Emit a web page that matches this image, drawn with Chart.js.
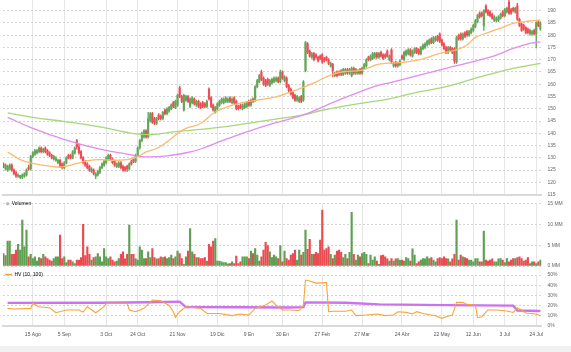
<!DOCTYPE html>
<html><head><meta charset="utf-8">
<script src="https://cdn.jsdelivr.net/npm/chart.js@4/dist/chart.umd.min.js"></script>
<style>
html,body{margin:0;padding:0;background:#fff;width:571px;height:352px;overflow:hidden;}
#strip{position:absolute;left:0;top:346px;width:571px;height:6px;background:#f2f2f2;}
canvas{position:absolute;left:0;}
</style></head><body>
<div id="strip"></div>
<canvas id="price" style="top:0" width="571" height="198"></canvas>
<canvas id="vol" style="top:198px" width="571" height="72"></canvas>
<canvas id="hv" style="top:270px" width="571" height="82"></canvas>
<script>
// ---- x axis (trading-day index) ----
const tickIdx = [14, 29, 49, 64, 83, 102, 117, 133, 152, 171, 190, 209, 224, 239, 254];
const tickLabels = ['15 Ago','5 Sep','3 Oct','24 Oct','21 Nov','19 Dic','9 En','30 En','27 Feb','27 Mar','24 Abr','22 May','12 Jun','3 Jul','24 Jul'];
const priceTicks = [115,120,125,130,135,140,145,150,155,160,165,170,175,180,185,190];
const volTicks = [0, 5, 10, 15];
const hvTicks = [0, 10, 20, 30, 40, 50];

// ---- daily OHLC ----
const open = [
127.5,125.5,125,125.5,127,125,124,122.5,122,122,
122.5,123,126,125.5,130.5,131.5,132,132.5,134,132.5,
134,133,132,131,129.5,129,128,129,127.5,126,
128,131,131,130,132,137,134.5,132.5,130,128.5,
127.5,126.5,124.5,125,122.5,123,124,126,127,128,
129.5,131,129.5,128.5,126.5,126.5,128,126.5,126,126.5,
125.5,128.5,129.5,128.5,131,134,137,138.5,141,138.5,
145,148,146,144,147.5,147,146,149.5,148,149,
150,152.5,150.5,151.5,158.5,155,149.5,153.5,155,151,
152.5,154,151.5,153,152,152.5,152,151,158,154.5,
151.5,148.5,150,151.5,152.5,152.5,153,153,154.5,152.5,
154.5,153,151,151.5,150,150.5,151,153,151.5,154,
153.5,159,161,165,162.5,161.5,162,159.5,160.5,161,
161.5,162.5,161,165,161.5,162.5,159.5,158,156.5,155.5,
153.5,153,155,153.5,165.5,176.5,173.5,171,172.5,172,
171,171.5,172,170.5,171,170,167.5,168,163.5,165,
165,165.5,164,164.5,166,164.5,163.5,166.5,164.5,164.5,
166,164.5,166.5,167.5,171,170,170.5,171,172.5,171,
173,172,172,173.5,170,174,167.5,169,167.5,168,
171.5,170,172,172.5,174,171.5,173,174.5,174,172.5,
174.5,175,176,176.5,178.5,177,178,179.5,180.5,178,
176.5,175,173,175,174.5,174.5,169,180,180.5,178.5,
181,181.5,180,181,182,183.5,185.5,189,189,184,
192,190,189.5,188.5,186,186,186,187,189.5,188,
189.5,193.5,190.5,191,189.5,192,186.5,184.5,184,183,
182.5,180.5,180.5,182,180.5,185.5,182.5];
const high = [
128,127.5,127,127.5,127.5,125.5,124.5,123.5,123,123.5,
124,125.5,127,131,132.5,133.5,133.5,134.5,134.5,134,
134.5,133.5,132.5,131.5,131,130.5,129.5,129.5,128,128.5,
130.5,131.5,131.5,133,134.5,137.5,135.5,133,130.5,129,
128,127,126,125.5,124,125,126.5,128,129,130.5,
131.5,131.5,130,129,128,128.5,128.5,127,126.5,127,
128,129,130,131.5,134.5,137.5,140.5,141.5,141.5,148.5,
148.5,148.5,146.5,146.5,148,147.5,149,150,150.5,151,
152,153,153.5,156,159.3,155.5,156,155.5,155.5,154.5,
155,154.5,153.5,153.5,152.5,153,152.5,153.5,158.5,155,
152,151,152.5,153.5,154.5,154.5,155,154.5,155,154.5,
155,153.5,151.5,152,152,152.5,153,153.5,154,154.5,
159.5,162,164,165.8,163,162,162.5,162,162.5,163,
163,163,165.8,165.5,163.5,163,160,158.5,157,156,
155.5,155,155.5,161.5,177.5,177,174,173,173,172.5,
171.5,172,172.5,171,171.5,170.5,169,168.5,165,165.5,
165.5,166,166.5,166.5,166.5,166.5,167,167,166.5,166,
166.5,167,168.5,170.5,171.5,172,173,173,173,173,
173.5,172.5,172.5,174,172,174.5,169,169.5,169,170,
172,173.5,174,174.5,174.5,174,175,175,174.5,175.5,
176.5,177,178,178.5,179,179.5,179.5,180,181,178.5,
177,175.5,175.5,175.5,175,175,179.5,180.5,181,181,
181.5,182,182,183,184.5,186.5,188.5,189.5,189.5,190.5,
192.5,190.5,190,189,188,187.5,188,189,190,191,
191.5,194.3,191,191.5,191.5,193,187,185,184.5,183.5,
183,182.5,182,182.5,185.5,186,185.5];
const low = [
126,125,124.5,125,124.5,123,122,122,121.5,121.5,
122,122.5,125,125,130,131,131.5,132,132,132,
132,131,130.5,129.5,129,128.5,127.5,126,125.5,125.5,
127.5,129.5,129.5,129.5,131.5,133.5,131.5,129.5,127.5,126.5,
125.5,124.5,124,123,121.5,122.5,123.5,125.5,126.5,127.5,
129,129,127.5,126.5,126,126,125.5,124.5,124.5,124.5,
125,127,128,128,130.5,133.5,136.5,138,138,138,
144.5,144,143.5,143.5,145.5,145.5,145.5,147.5,147.5,148.5,
149.5,150.5,150,151,154.5,152.5,149,153,152.5,150.5,
152,151.5,151,150.5,150,150.5,150.5,150.5,153.5,150.5,
149,148.2,149.5,151,152,152,152.5,152.5,152.5,152,
152,149.5,149.5,150,149.5,150,150.5,151,151,152.5,
153,158.5,160.5,161.5,159.5,159,159.5,159,160,160.5,
161,160.5,160.5,162,161,158.5,157,155.5,154,153,
153,152.5,152.5,153,165,172.5,171,170.5,169.5,170.5,
169,170,168.5,169,169.5,168,167,163,163,163,
163.5,163.5,163.5,164,164,164,163,164,164,164,
164,164,166,167,169.5,169.5,170,170.5,170.5,170.5,
171,170,170.5,171,169.5,168.5,167,167,167,167.5,
170,169.5,171.5,172,171.5,171,172.5,172.5,172,172,
174,174.5,175.5,176,176.5,176.5,177.5,177.5,177,175.5,
174,172.5,172.5,173.5,172.5,168.5,168.5,178,178,178,
179,179.5,179.5,180.5,181.5,183,185,187,187.5,182,
189,188,187.5,186.5,185.5,185.5,185.5,186.5,187.5,187.5,
189,188.5,188.5,189.5,189,186,183.5,181.5,182,180.5,
180.5,180,180,180,174.8,183.5,182];
const close = [
126.5,127,126.5,127,125,123.5,122.5,123,122.8,123,
123.5,125,125.5,130.5,132,133,133,134,132.5,133.5,
132.5,131.5,131,130,130.5,129.8,129,126.5,126,128,
130,130,130,132.5,134,134.5,132,130,128,127,
126,125,125.5,123.5,123.5,124.5,126,127.5,128.5,130,
131,129.5,128,127,127.5,128,126,125,125,125.5,
127.5,127.5,128.5,131,134,137,140,141,138.5,146,
148,144.5,144,146,146,146,148.5,148,150,150.5,
151.5,151,153,155.5,155,153,155.5,155,153,154,
154.5,152,153,151,150.5,151,151,153,154,151,
149.5,150.5,152,153,154,154,154.5,154,153,154,
152.5,150,150,150.5,151.5,152,152.5,151.5,153.5,153,
159,161.5,163.5,162,160,159.5,160,161.5,162,162.5,
162.5,161,165,162.5,163,159,157.5,156,154.5,153.5,
155,154.5,153,161,177,173,171.5,172.5,170,171,
169.5,170.5,169,169.5,170,168.5,168.5,165.5,164.5,163.5,
164,164,166,166,164.5,166,166.5,164.5,166,165.5,
164.5,166.5,168,170,170,171.5,172.5,172.5,171,172.5,
171.5,170.5,171,171.5,171.5,169,168.5,167.5,168.5,169.5,
170.5,173,173.5,174,172,173.5,174.5,173,172.5,175,
176,176.5,177.5,178,177,179,179,178,177.5,176,
174.5,173,175,174,173,169.5,179,178.5,178.5,180.5,
179.5,180,181.5,182.5,184,186,188,187.5,188,190,
189.5,188.5,188,187,187.5,187,187.5,188.5,188,190.5,
191,189,189,190,191,186.5,184,182,182.5,181,
181,182,181.5,180.5,185,184,185];
// ---- volume, millions ----
const volumeMM = [
3.0,2.5,6.0,6.0,2.8,2.8,3.8,5.2,3.8,11.0,
4.6,8.6,2.2,2.8,1.8,2.2,1.2,2.0,1.8,2.8,
2.2,1.8,1.4,1.2,1.8,2.2,2.2,7.4,1.8,2.2,
0.8,1.4,1.4,1.0,0.6,1.4,1.4,2.0,10.0,2.5,
4.6,2.8,1.4,2.0,2.2,3.0,2.2,1.0,4.2,2.2,
1.8,2.2,1.4,1.0,1.2,1.8,2.8,3.4,1.7,2.8,
9.8,2.8,2.8,1.8,1.4,4.6,3.8,1.8,1.8,3.4,
2.0,4.2,2.0,1.7,1.8,2.2,2.0,2.2,1.8,2.0,
2.6,1.8,2.2,3.6,3.0,1.8,0.4,2.2,3.6,9.0,
3.4,2.8,2.0,2.0,1.8,1.8,2.0,1.2,5.2,4.6,
6.0,6.6,1.2,1.2,1.0,0.8,0.8,0.5,0.6,1.0,
0.6,2.4,0.6,1.0,2.2,2.2,2.2,1.8,3.6,3.0,
4.2,2.6,1.2,2.2,3.8,5.7,4.9,3.4,2.0,2.6,
2.2,1.8,4.9,1.0,3.6,1.8,1.4,2.6,3.0,3.8,
1.4,3.8,2.6,3.3,8.6,4.0,6.4,2.8,2.8,3.3,
3.0,6.2,13.4,3.8,4.2,4.6,2.8,1.8,2.6,3.6,
3.8,3.3,2.0,2.8,1.8,3.3,12.9,2.8,1.4,2.6,
2.2,3.0,3.3,2.8,0.6,2.6,1.4,2.2,1.2,0.4,
2.5,2.6,2.2,1.7,1.2,1.8,1.2,1.7,1.8,1.4,
1.4,1.2,2.0,1.8,1.2,4.1,2.6,0.6,1.0,1.4,
1.8,1.7,2.2,1.8,2.0,1.4,1.0,1.8,2.0,1.8,
2.2,1.8,1.7,1.0,1.7,2.8,11.0,1.4,2.6,2.2,
2.0,1.8,1.4,1.4,1.0,1.8,1.8,1.0,1.0,8.4,
1.4,1.2,1.4,1.7,1.0,1.0,1.7,1.8,1.4,0.8,
1.8,1.0,1.4,1.8,1.8,2.0,2.2,1.8,1.2,1.4,
2.0,0.6,1.0,1.0,0.6,1.0,1.4];

// ---- moving averages (read at sample points) ----
const maShortIdx = [2,8,14,22,28,35,40,46,52,59,64,68,73,78,83,87,94,101,111,121,130,135,143,149,156,162,171,179,189,198,208,216,221,225,232,238,243,251,256];
const maShortVal = [132.4,129.3,127.7,126.6,126.3,127.7,128.8,129.3,129.0,129.3,130.4,132.4,133.8,136.5,139.9,142,144,148.7,151.9,153.5,154.9,156.3,158.7,161,163.7,165.1,165.8,168.2,168.8,169.9,172.6,174,176,179.1,181.4,183.2,184.8,185.8,186.2];
const maMidIdx = [2,14,30,46,59,67,78,89,94,105,121,137,145,156,168,179,184,195,211,224,235,243,251,256];
const maMidVal = [146.5,142,137.2,133.5,131.5,130.4,130.8,132.4,133.6,137.2,142,146,148.1,152.2,156.3,159.6,160.6,163,166.5,169.2,171.9,174.6,176.7,177.3];
const maLongIdx = [2,14,30,46,62,71,81,89,94,105,121,137,145,152,168,184,195,211,227,243,256];
const maLongVal = [148.3,146.5,144.7,142.6,139.9,139.5,140.6,141.2,141.6,142.6,144.7,146.7,147.8,149.4,151.9,154,156.3,159,163,166.5,168.5];

// ---- historical volatility (%) ----
const hv10Idx = [2,5,13,14,17,22,25,30,36,38,40,44,48,49,59,60,63,67,71,75,79,81,82,84,87,94,97,103,109,113,117,120,125,128,130,133,137,141,143,144,146,149,153,154,155,157,163,166,168,173,178,182,186,188,192,195,197,200,206,209,211,214,216,219,221,225,226,228,231,235,240,243,245,247,249,254,256];
const hv10Val = [17.1,16.5,17.1,22,18.7,17.7,12.8,15.5,15.5,13.5,18.7,12.8,18.7,22,22,15.5,13.8,17.1,25.3,24.5,20,13.8,8.3,13.8,18.7,17.1,12.1,12.1,9.9,11.5,10.5,17.1,20.3,24.3,20.3,15.5,15.5,15,20,45,44,42,42.5,42.5,13.8,14.3,14.3,15.5,9.9,10.5,11.6,9.9,10.5,13.8,13.1,11.6,13.8,12.1,9.9,7.3,8.9,10.5,23,23,21,20,7.9,8.9,15.5,15.5,14.5,13.1,17.5,15.5,12.5,11.5,9.5];
const hv100Idx = [2,46,70,84,87,136,143,144,163,179,211,243,245,256];
const hv100Val = [22.5,22.7,23.2,23.7,18.4,18.0,18.3,23,22.7,21,20.3,19.8,15,14.5];

// ---------------- rendering ----------------
const F = "'Liberation Sans', Arial, sans-serif";
Chart.defaults.font.family = F;
Chart.defaults.font.size = 5;
Chart.defaults.color = '#666';
Chart.defaults.animation = false;
Chart.defaults.responsive = false;
Chart.defaults.plugins.legend.display = false;
Chart.defaults.plugins.tooltip.enabled = false;

const X_MIN = -0.2, X_MAX = 256.5, RIGHT_W = 29.5;
const UP = '#64a558', DOWN = '#ee4d55';
const VUP = '#5f9f52', VDOWN = '#ea4b50';

const idx = close.map((_, i) => i);
const isUp = idx.map(i => close[i] >= open[i]);
const pts = (xs, ys) => xs.map((x, k) => ({x, y: ys[k]}));

function xAxis(o) {
  return {
    type: 'linear', min: X_MIN, max: X_MAX, offset: false,
    afterBuildTicks: s => { s.ticks = tickIdx.map(v => ({value: v})); },
    ticks: { display: !!o.labels, autoSkip: false, maxRotation: 0, minRotation: 0, padding: 6,
             color: '#555', font: {size: 5}, callback: (v, k) => tickLabels[k] },
    grid: { color: '#e6e6e6', drawTicks: false, offset: false },
    border: { display: !!o.border, color: '#d9d9d9', width: 2 },
    afterFit: s => { s.height = o.h; s.paddingLeft = 0; s.paddingRight = 0; }
  };
}
function yAxis(min, max, ticks, fmt) {
  return {
    position: 'right', min, max,
    afterBuildTicks: s => { s.ticks = ticks.map(v => ({value: v})); },
    ticks: { padding: 6, color: '#666', font: {size: 5}, callback: fmt },
    grid: { color: '#d4d4d4', drawTicks: false },
    border: { display: false, dash: [2, 2] },
    afterFit: s => { s.width = RIGHT_W; s.paddingTop = 0; s.paddingBottom = 0; }
  };
}

// Price panel
new Chart(document.getElementById('price'), {
  type: 'bar',
  data: { datasets: [
    { type: 'line', data: pts(maShortIdx, maShortVal), borderColor: '#fdb96c', borderWidth: 1.3, pointRadius: 0, tension: 0.4, order: 0 },
    { type: 'line', data: pts(maMidIdx, maMidVal), borderColor: '#e28cf0', borderWidth: 1.3, pointRadius: 0, tension: 0.4, order: 0 },
    { type: 'line', data: pts(maLongIdx, maLongVal), borderColor: '#a6d878', borderWidth: 1.3, pointRadius: 0, tension: 0.4, order: 0 },
    { data: idx.map(i => ({x: i, y: [low[i], high[i]]})), backgroundColor: idx.map(i => isUp[i] ? UP : DOWN),
      barThickness: 0.7, grouped: false, order: 2 },
    { data: idx.map(i => ({x: i, y: [Math.min(open[i], close[i]), Math.max(open[i], close[i])]})),
      backgroundColor: idx.map(i => isUp[i] ? UP : DOWN), barThickness: 1.5, grouped: false, order: 1 }
  ]},
  options: {
    layout: { padding: { left: 3, right: 0, top: 0, bottom: 0 } },
    scales: {
      x: xAxis({ h: 3.4, border: true }),
      y: yAxis(115, 194.36, priceTicks, v => String(v))
    }
  }
});

// Volume panel
new Chart(document.getElementById('vol'), {
  type: 'bar',
  data: { datasets: [
    { label: 'Volumen', data: idx.map(i => ({x: i, y: volumeMM[i]})),
      backgroundColor: idx.map(i => isUp[i] ? VUP : VDOWN), barThickness: 1.5, grouped: false }
  ]},
  options: {
    layout: { padding: { left: 3, right: 0, top: 5.5, bottom: 0 } },
    plugins: { legend: { display: true, position: 'chartArea', align: 'start',
      labels: { usePointStyle: true, boxWidth: 3, boxHeight: 2.5, padding: 3.2, color: '#555', font: {size: 5},
        generateLabels: () => [{ text: 'Volumen', pointStyle: 'circle', fillStyle: '#bdbdbd', strokeStyle: '#bdbdbd', lineWidth: 0, hidden: false, datasetIndex: 0 }] } } },
    scales: {
      x: xAxis({ h: 4, border: false }),
      y: yAxis(0, 15, volTicks, v => v + ' MM')
    }
  }
});

// HV panel
new Chart(document.getElementById('hv'), {
  type: 'line',
  data: { datasets: [
    { label: 'HV 10', data: pts(hv10Idx, hv10Val), borderColor: '#f8a436', borderWidth: 1.1, pointRadius: 0, tension: 0, order: 0 },
    { label: 'HV 100', data: pts(hv100Idx, hv100Val), borderColor: '#cc72ea', borderWidth: 2.4, pointRadius: 0, tension: 0, order: 1 }
  ]},
  options: {
    layout: { padding: { left: 3, right: 0, top: 5, bottom: 0 } },
    plugins: { legend: { display: true, position: 'chartArea', align: 'start',
      labels: { usePointStyle: true, pointStyleWidth: 7, boxHeight: 3, padding: 2, color: '#555', font: {size: 5},
        generateLabels: () => [{ text: 'HV (10, 100)', pointStyle: 'line', fillStyle: '#f8a436', strokeStyle: '#f8a436', lineWidth: 1.4, hidden: false, datasetIndex: 0 }] } } },
    scales: {
      x: xAxis({ h: 26.3, border: true, labels: true }),
      y: yAxis(0, 50, hvTicks, v => v + '%')
    }
  }
});
</script>
</body></html>
